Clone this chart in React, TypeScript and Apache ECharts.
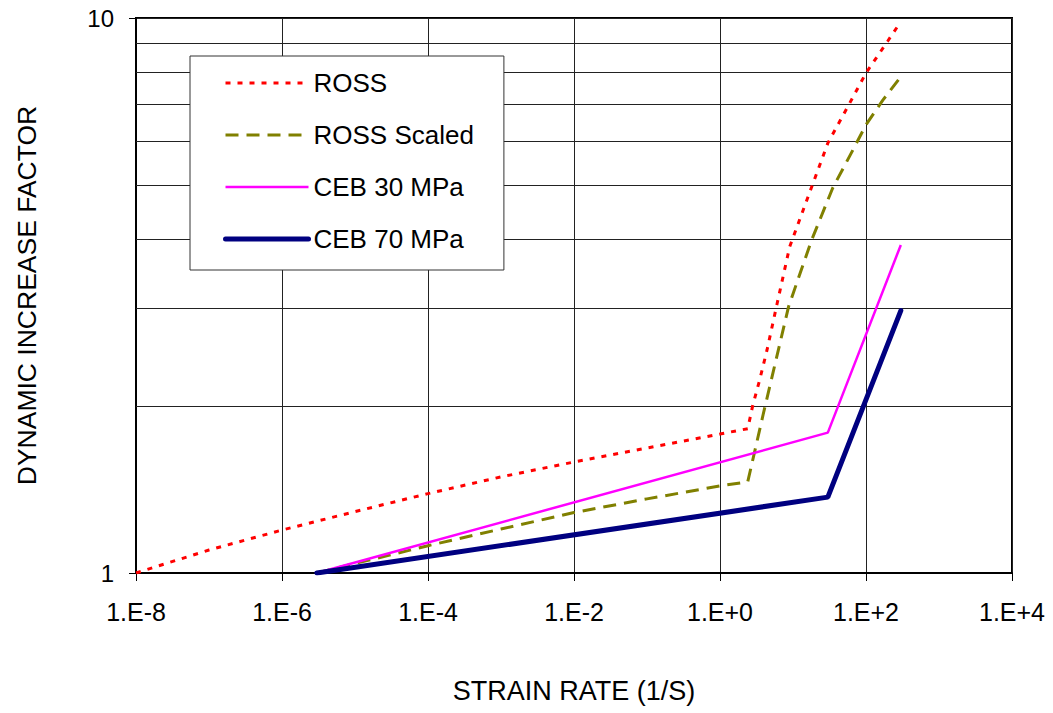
import React, { useEffect, useRef } from "react";
import * as echarts from "echarts";

// Axis ticks / grid
const xTickValues = [1e-8, 1e-6, 1e-4, 1e-2, 1, 1e2, 1e4];
const yMinorGridValues = [2, 3, 4, 5, 6, 7, 8, 9];

// Series names
const seriesNames = ["ROSS", "ROSS Scaled", "CEB 30 MPa", "CEB 70 MPa"];

// ROSS (red dotted)
const rossX = [1e-8, 1e-7, 1e-6, 1e-5, 1e-4, 1e-3, 1e-2, 1e-1, 1, 2.4, 2.8, 3.5, 4.4, 6, 9, 18, 30, 60, 100, 200, 300];
const rossY = [1.0, 1.1, 1.195, 1.29, 1.39, 1.49, 1.585, 1.68, 1.78, 1.82, 2.0, 2.23, 2.52, 3.04, 3.87, 4.96, 5.95, 7.03, 7.96, 9.1, 9.85];

// ROSS Scaled (olive dashed)
const rossScaledX = [3e-6, 1e-5, 1e-4, 1e-3, 1e-2, 1e-1, 1, 2.4, 3.9, 8.7, 18, 35, 66, 100, 170, 300];
const rossScaledY = [1.0, 1.04, 1.12, 1.2, 1.285, 1.36, 1.435, 1.46, 1.93, 3.02, 3.98, 4.94, 5.78, 6.42, 7.11, 7.84];

// CEB 30 MPa (magenta)
const ceb30X = [3e-6, 30, 300];
const ceb30Y = [1.0, 1.79, 3.9];

// CEB 70 MPa (navy)
const ceb70X = [3e-6, 30, 300];
const ceb70Y = [1.0, 1.37, 2.97];

const FONT = 'Arial, "Liberation Sans", Helvetica, sans-serif';

function pairs(xs: number[], ys: number[]) {
  return xs.map((x, i) => [x, ys[i]]);
}

function fmtExp(v: number) {
  const e = Math.round(Math.log10(v));
  return "1.E" + (e >= 0 ? "+" : "-") + Math.abs(e);
}

export default function App() {
  const ref = useRef<HTMLDivElement>(null);

  useEffect(() => {
    const chart = echarts.init(ref.current!, null, { renderer: "svg" });
    chart.setOption({
      animation: false,
      backgroundColor: "#ffffff",
      textStyle: { fontFamily: FONT },
      grid: {
        left: 136,
        right: 41,
        top: 18,
        bottom: 140,
        show: true,
        borderColor: "#000",
        borderWidth: 2,
        backgroundColor: "transparent",
      },
      legend: {
        data: seriesNames,
        orient: "vertical",
        left: 190,
        top: 56,
        padding: [14, 30, 18, 33],
        itemGap: 26,
        itemWidth: 83,
        itemHeight: 14,
        backgroundColor: "#ffffff",
        borderColor: "#333",
        borderWidth: 1,
        borderRadius: 0,
        selectedMode: false,
        textStyle: { fontSize: 26, color: "#000", fontFamily: FONT, lineHeight: 26 },
        lineStyle: { width: "inherit" },
        itemStyle: { opacity: 0, borderWidth: 0 },
      },
      xAxis: {
        type: "log",
        logBase: 10,
        min: 1e-8,
        max: 1e4,
        name: "STRAIN RATE (1/S)",
        nameLocation: "middle",
        nameGap: 104,
        nameTextStyle: { fontSize: 27, color: "#000", fontFamily: FONT },
        axisLine: { show: true, onZero: false, lineStyle: { color: "#000", width: 2 } },
        axisTick: { show: true, length: 8, customValues: xTickValues, lineStyle: { color: "#000", width: 1 } },
        axisLabel: { customValues: xTickValues, formatter: fmtExp, fontSize: 25, color: "#000", margin: 26, fontFamily: FONT },
        splitLine: { show: true, lineStyle: { color: "#222", width: 1 } },
        minorTick: { show: false },
        minorSplitLine: { show: false },
      },
      yAxis: {
        type: "log",
        logBase: 10,
        min: 1,
        max: 10,
        name: "DYNAMIC INCREASE FACTOR",
        nameLocation: "middle",
        nameGap: 96,
        nameTextStyle: { fontSize: 26.5, color: "#000", fontFamily: FONT },
        axisLine: { show: true, onZero: false, lineStyle: { color: "#000", width: 2 } },
        axisTick: { show: true, length: 7, lineStyle: { color: "#000", width: 1 } },
        axisLabel: { fontSize: 24, color: "#000", margin: 22, fontFamily: FONT },
        splitLine: { show: true, lineStyle: { color: "#222", width: 1 } },
        minorTick: { show: false },
        minorSplitLine: { show: false },
      },
      series: [
        {
          name: "gridlines",
          type: "line",
          data: [],
          silent: true,
          markLine: {
            silent: true,
            z: 1,
            symbol: ["none", "none"],
            label: { show: false },
            lineStyle: { color: "#222", width: 1, type: "solid" },
            emphasis: { disabled: true },
            data: yMinorGridValues.map((v) => ({ yAxis: v })),
          },
        },
        {
          name: seriesNames[0],
          type: "line",
          data: pairs(rossX, rossY),
          symbol: "none",
          z: 3,
          itemStyle: { color: "#FF0000" },
          lineStyle: { color: "#FF0000", width: 3, type: [5, 7], cap: "butt" },
        },
        {
          name: seriesNames[1],
          type: "line",
          data: pairs(rossScaledX, rossScaledY),
          symbol: "none",
          z: 3,
          itemStyle: { color: "#808000" },
          lineStyle: { color: "#808000", width: 3, type: [13, 8], cap: "butt" },
        },
        {
          name: seriesNames[2],
          type: "line",
          data: pairs(ceb30X, ceb30Y),
          symbol: "none",
          z: 3,
          itemStyle: { color: "#FF00FF" },
          lineStyle: { color: "#FF00FF", width: 2.5 },
        },
        {
          name: seriesNames[3],
          type: "line",
          data: pairs(ceb70X, ceb70Y),
          symbol: "none",
          z: 3,
          itemStyle: { color: "#000080" },
          lineStyle: { color: "#000080", width: 5, cap: "round" },
        },
      ],
    });
    return () => chart.dispose();
  }, []);

  return (
    <div
      ref={ref}
      style={{ position: "fixed", left: 0, top: 0, width: 1053, height: 713, background: "#fff" }}
    />
  );
}
